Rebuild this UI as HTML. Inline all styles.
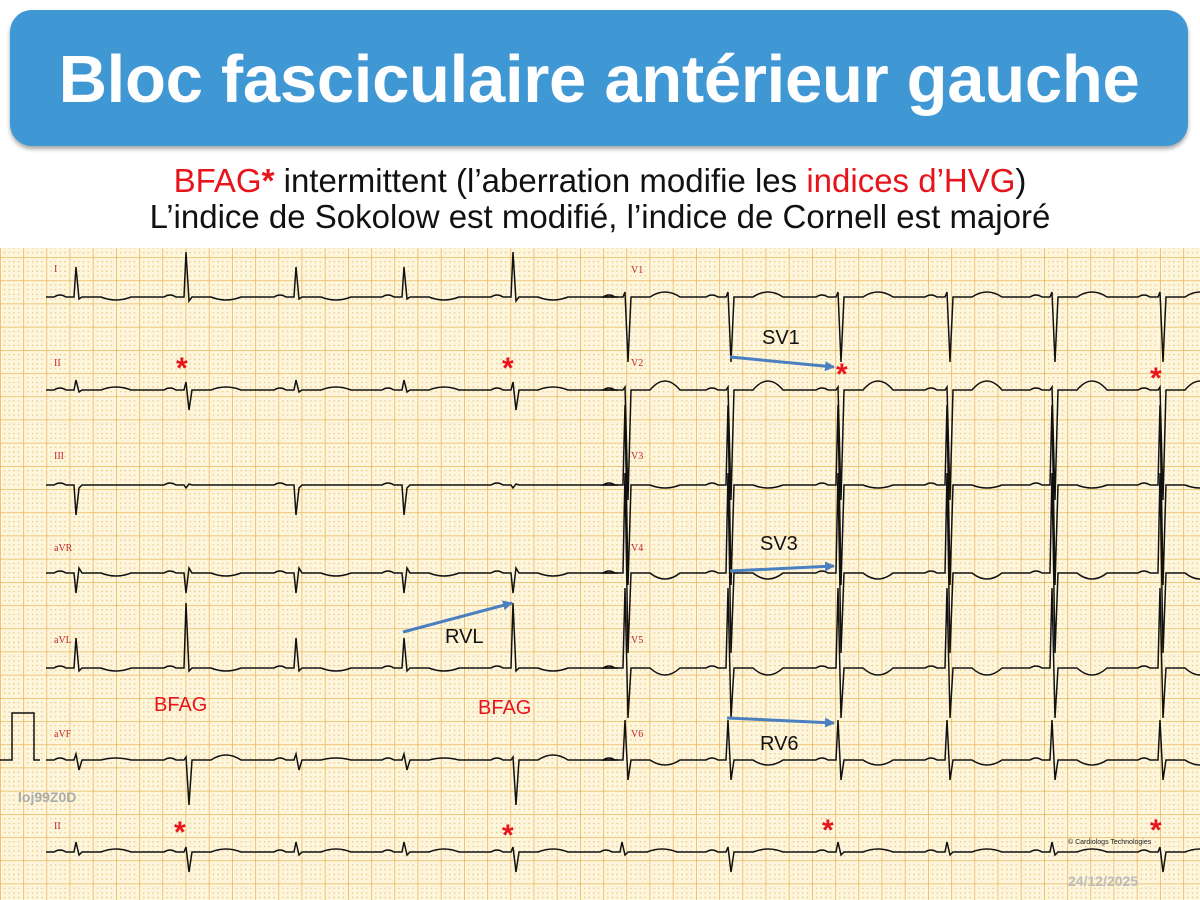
<!DOCTYPE html>
<html><head><meta charset="utf-8"><style>
body{margin:0;width:1200px;height:900px;background:#fff;overflow:hidden;font-family:"Liberation Sans",Arial,sans-serif;position:relative}
.hdr{position:absolute;left:10px;top:10px;width:1178px;height:136px;background:#3f97d4;border-radius:22px;box-shadow:0 3px 4px rgba(0,0,0,.35);color:#fff;font-weight:bold;font-size:67px;text-align:center;line-height:140px;letter-spacing:-0.3px}
.sub{position:absolute;left:0;width:1200px;text-align:center;font-size:33px;line-height:36px;color:#111}
.r{color:#e8141c}
svg{position:absolute;left:0;top:248px}
</style></head><body>
<div class="hdr">Bloc fasciculaire antérieur gauche</div>
<div class="sub" style="top:163px"><span class="r">BFAG<b>*</b></span> intermittent (l’aberration modifie les <span class="r">indices d’HVG</span>)</div>
<div class="sub" style="top:199px">L’indice de Sokolow est modifié, l’indice de Cornell est majoré</div>
<svg id="s" width="1200" height="652" viewBox="0 248 1200 652">
<defs>
<pattern id="g" x="0" y="2" width="23.2" height="23.2" patternUnits="userSpaceOnUse">
<rect width="23.2" height="23.2" fill="#fdf5dc"/>
<g fill="#e6bf6a"><circle cx="4.6" cy="4.6" r=".7"/><circle cx="9.3" cy="4.6" r=".7"/><circle cx="13.9" cy="4.6" r=".7"/><circle cx="18.6" cy="4.6" r=".7"/>
<circle cx="4.6" cy="9.3" r=".7"/><circle cx="9.3" cy="9.3" r=".7"/><circle cx="13.9" cy="9.3" r=".7"/><circle cx="18.6" cy="9.3" r=".7"/>
<circle cx="4.6" cy="13.9" r=".7"/><circle cx="9.3" cy="13.9" r=".7"/><circle cx="13.9" cy="13.9" r=".7"/><circle cx="18.6" cy="13.9" r=".7"/>
<circle cx="4.6" cy="18.6" r=".7"/><circle cx="9.3" cy="18.6" r=".7"/><circle cx="13.9" cy="18.6" r=".7"/><circle cx="18.6" cy="18.6" r=".7"/></g>
<path d="M0 0H23.2M0 0V23.2" stroke="#e3ad3e" stroke-width="1.3"/>
</pattern>
<marker id="a" markerWidth="10" markerHeight="10" refX="9" refY="5" orient="auto" markerUnits="userSpaceOnUse"><path d="M0 0L10 5L0 10z" fill="#4a7fc0"/></marker>
</defs>
<rect x="0" y="248" width="1200" height="652" fill="url(#g)"/>
<g id="tr" fill="none" stroke="#111" stroke-width="1.5"></g>
<g font-family="Liberation Serif,serif" font-size="10" fill="#c0282c">
<text x="54" y="272">I</text><text x="54" y="366">II</text><text x="54" y="459">III</text><text x="54" y="551">aVR</text><text x="54" y="643">aVL</text><text x="54" y="737">aVF</text><text x="54" y="829">II</text>
<text x="631" y="273">V1</text><text x="631" y="366">V2</text><text x="631" y="459">V3</text><text x="631" y="551">V4</text><text x="631" y="643">V5</text><text x="631" y="737">V6</text></g>
<path d="M0 760H12V713H34V760H40" fill="none" stroke="#111" stroke-width="1.5"/>
<g stroke="#4a7fc0" stroke-width="3" marker-end="url(#a)">
<line x1="730" y1="357" x2="834" y2="367"/><line x1="730" y1="571" x2="834" y2="566"/><line x1="727" y1="718" x2="834" y2="723"/><line x1="403" y1="632" x2="512" y2="603"/></g>
<g font-size="20" fill="#111"><text x="762" y="344">SV1</text><text x="760" y="550">SV3</text><text x="760" y="750">RV6</text><text x="445" y="643">RVL</text></g>
<g font-size="20" fill="#e8141c"><text x="154" y="711">BFAG</text><text x="478" y="714">BFAG</text>
<g font-size="30" font-weight="bold"><text x="176" y="378">*</text><text x="502" y="378">*</text><text x="836" y="384">*</text><text x="1150" y="388">*</text>
<text x="174" y="842">*</text><text x="502" y="845">*</text><text x="822" y="840">*</text><text x="1150" y="840">*</text></g></g>
<text x="18" y="802" font-size="14" fill="#aaa" font-weight="bold">loj99Z0D</text>
<text x="1068" y="844" font-size="7" fill="#222">© Cardiologs Technologies</text>
<text x="1068" y="886" font-size="14" fill="#bbb" font-weight="bold">24/12/2025</text>
</svg>
<script>
var g=document.getElementById('tr'),out='';
var L=[76,186,296,404,513],R=[728,838,947,1052,1160];
function beat(x,b,amp,t){
 var p=' L'+(x-22)+' '+b+' Q'+(x-16)+' '+(b-4)+' '+(x-10)+' '+b+' L'+(x-2)+' '+b+' L'+x+' '+(b+amp[0])+' L'+(x+3)+' '+(b+amp[1])+' L'+(x+6)+' '+b+' L'+(x+25)+' '+b+' Q'+(x+40)+' '+(b+t)+' '+(x+55)+' '+b;return p;}
function lead(x0,x1,b,xs,f){var d='M'+x0+' '+b;xs.forEach(function(x,i){var a=f(i);d+=beat(x,b,a[0],a[1]);});d+=' L'+x1+' '+b;out+='<path d="'+d+'"/>';}
var bf=function(i){return i==1||i==4;};
lead(46,618,297,L,function(i){return bf(i)?[[-45,4],6]:[[-30,2],6]});
lead(46,618,390,L,function(i){return bf(i)?[[-8,20],-6]:[[-10,2],-6]});
lead(46,618,485,L,function(i){return bf(i)?[[3,-1],0]:[[30,3],0]});
lead(46,618,573,L,function(i){return [[20,-5],6]});
lead(46,618,668,L,function(i){return bf(i)?[[-65,3],6]:[[-30,3],6]});
lead(46,618,760,L,function(i){return bf(i)?[[-3,45],-10]:[[-6,10],-4]});
lead(46,1200,852,L.concat([622],R),function(i){return (i==1||i==4||i==6||i==10)?[[-5,20],-6]:[[-10,3],-6]});
lead(620,1200,297,[625].concat(R),function(i){return [[-5,65],-10]});
lead(620,1200,390,[625].concat(R),function(i){return [[-3,110],-18]});
lead(620,1200,485,[625].concat(R),function(i){return [[-80,100],6]});
lead(620,1200,573,[625].concat(R),function(i){return [[-100,80],12]});
lead(620,1200,668,[625].concat(R),function(i){return [[-80,50],14]});
lead(620,1200,760,[625].concat(R),function(i){return [[-40,20],10]});
g.innerHTML=out;
</script>
</body></html>
